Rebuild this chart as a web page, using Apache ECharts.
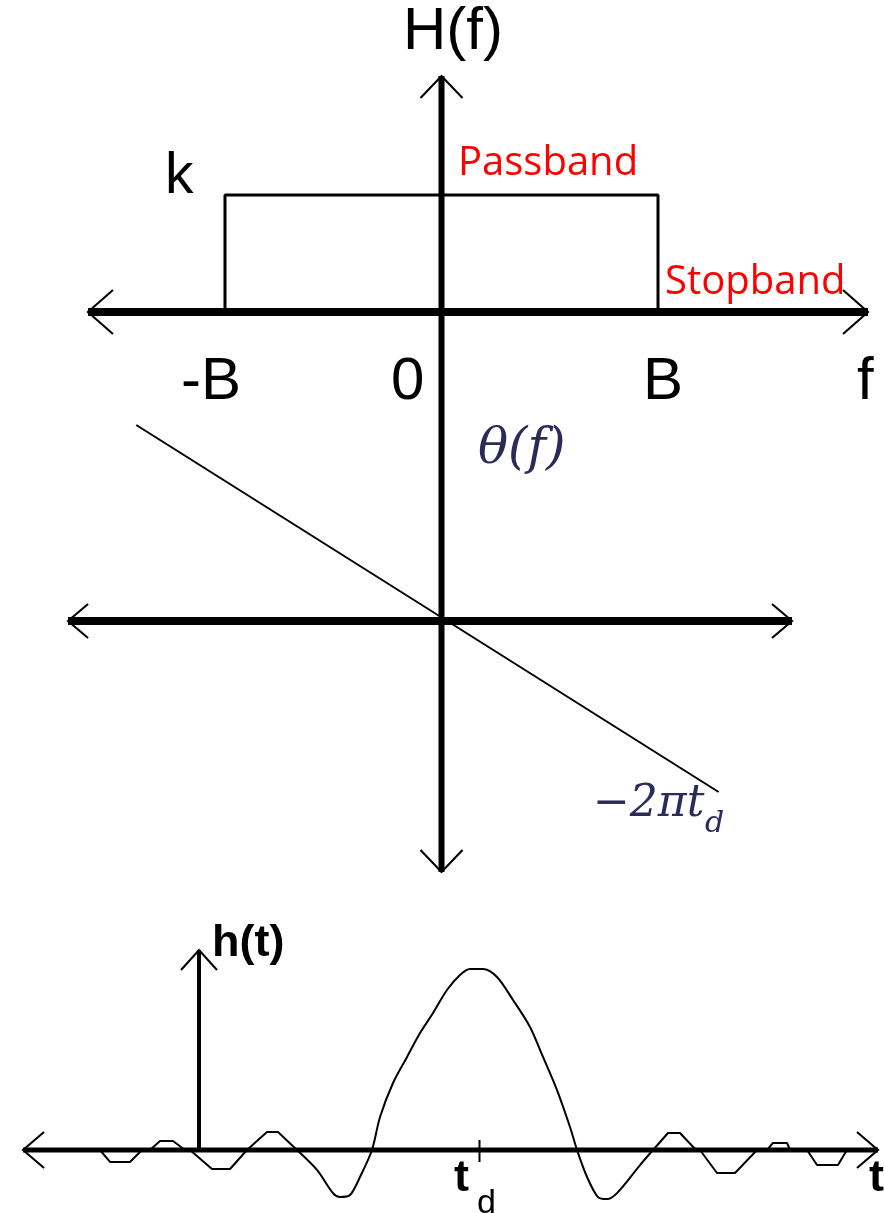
<!DOCTYPE html>
<html>
<head>
<meta charset="utf-8">
<title>Ideal low-pass filter</title>
<script src="https://cdn.jsdelivr.net/npm/echarts@6/dist/echarts.min.js"></script>
<style>
  html, body { margin: 0; padding: 0; background: #ffffff; }
  #chart { width: 884px; height: 1213px; }
</style>
</head>
<body>
<div id="chart"></div>
<script>
// Ideal low-pass filter: magnitude |H(f)|, phase θ(f) and impulse response h(t)

// |H(f)|: band edges in units of B, passband gain k
const bandEdges = [-1, 1];
const passGain = 1;
const magFreq = [bandEdges[0], bandEdges[0], bandEdges[1], bandEdges[1]];
const magVals = [0, passGain, passGain, 0];

// θ(f): end points of the linear-phase segment
const phaseFreq = [-1.41, 1.28];
const phaseVals = [1.96, -1.71];

// h(t): delayed sinc, time in units where t_d = 3, peak normalised to 1
const tDelay = 3;
const hTimes = [-1.059, -0.952, -0.738, -0.610, -0.524, -0.417, -0.278, -0.150, -0.096, 0.139,
  0.332, 0.513, 0.727, 0.845, 1.048, 1.262, 1.433, 1.508, 1.615, 1.722,
  1.850, 1.936, 2.075, 2.225, 2.364, 2.503, 2.652, 2.791, 2.898, 3.037,
  3.187, 3.358, 3.540, 3.679, 3.829, 3.968, 4.043, 4.150, 4.267, 4.364,
  4.471, 4.717, 4.856, 5.016, 5.144, 5.316, 5.358, 5.540, 5.733, 5.968,
  6.075, 6.139, 6.289, 6.321, 6.503, 6.610, 6.834, 6.930];
const hVals = [0, -0.066, -0.066, 0, 0, 0.050, 0.050, 0, 0, -0.105,
  -0.105, 0, 0.099, 0.099, 0, -0.110, -0.238, -0.260, -0.249, -0.149,
  0, 0.182, 0.370, 0.514, 0.646, 0.757, 0.884, 0.967, 1.000, 1.000,
  0.956, 0.829, 0.680, 0.514, 0.331, 0.127, 0, -0.149, -0.260, -0.271,
  -0.238, -0.083, 0, 0.094, 0.094, 0, 0, -0.127, -0.127, 0,
  0, 0.039, 0.039, 0, 0, -0.083, -0.083, 0];
// index range of the main lobe and its two neighbours, drawn as a smooth curve
const hSmoothRange = [14, 42];

// Axis extents (arrow tip to arrow tip)
const fAxisSpan = [-1.633, 1.97];
const magAxisSpan = [2.017, -4.786];   // vertical axis continues down through the phase plot
const phaseAxisSpan = [-1.725, 1.619];
const tAxisSpan = [-1.882, 7.262];
const hAxisSpan = [0, 1.105];
const tTickHalf = [0.055, -0.066];

// Text
const freqTickLabels = ['-B', '0', 'B'];
const bandLabels = ['Passband', 'Stopband'];

const zip = (xs, ys) => xs.map((x, i) => [x, ys[i]]);

// Axis line with open chevron arrow heads, placed through the grid's scales
function arrowAxis(gi, from, to, cfg) {
  return {
    type: 'custom',
    xAxisIndex: gi,
    yAxisIndex: gi,
    silent: true,
    clip: false,
    z: cfg.z || 3,
    data: [[from[0], from[1], to[0], to[1]]],
    renderItem: function (params, api) {
      const a = api.coord([api.value(0), api.value(1)]);
      const b = api.coord([api.value(2), api.value(3)]);
      const dx = b[0] - a[0], dy = b[1] - a[1];
      const len = Math.hypot(dx, dy) || 1;
      const ux = dx / len, uy = dy / len;
      const children = [{
        type: 'line',
        shape: { x1: a[0], y1: a[1], x2: b[0], y2: b[1] },
        style: { stroke: '#000', lineWidth: cfg.width }
      }];
      function head(tip, ox, oy) {
        const bx = tip[0] - ox * cfg.back, by = tip[1] - oy * cfg.back;
        const px = -oy * cfg.spread, py = ox * cfg.spread;
        children.push({
          type: 'polyline',
          shape: { points: [[bx + px, by + py], [tip[0], tip[1]], [bx - px, by - py]] },
          style: { stroke: '#000', lineWidth: 2.1, fill: 'none' }
        });
      }
      if (cfg.start) head(a, -ux, -uy);
      if (cfg.end) head(b, ux, uy);
      return { type: 'group', children: children };
    }
  };
}

function curve(gi, xs, ys, width, z, smooth) {
  return {
    type: 'line',
    xAxisIndex: gi,
    yAxisIndex: gi,
    data: zip(xs, ys),
    showSymbol: false,
    symbol: 'none',
    silent: true,
    clip: false,
    smooth: smooth || false,
    z: z || 2,
    lineStyle: { color: '#000', width: width }
  };
}

const sansBlack = (size, weight) => ({
  fontFamily: '"Liberation Sans", Arial, sans-serif',
  fontSize: size,
  fontWeight: weight || 'normal',
  fill: '#000'
});
const mathStyle = (size) => ({
  fontFamily: '"DejaVu Serif", serif',
  fontStyle: 'italic',
  fontSize: size,
  fill: '#2b2b5a'
});
const redStyle = {
  fontFamily: '"Open Sans", sans-serif',
  fontSize: 40,
  fill: '#ff0000'
};

function label(text, x, y, st) {
  return {
    type: 'text',
    x: x,
    y: y,
    z: 10,
    silent: true,
    style: Object.assign({ text: text, align: 'left', verticalAlign: 'middle' }, st)
  };
}

const chart = echarts.init(document.getElementById('chart'), null, { renderer: 'canvas' });

const hiddenAxis = (min, max, gi) => ({
  type: 'value', gridIndex: gi, min: min, max: max, show: false
});

const [s0, s1] = hSmoothRange;

chart.setOption({
  animation: false,
  backgroundColor: '#ffffff',
  grid: [
    { left: 8.5, top: 19.5, width: 866, height: 877.5, outerBoundsMode: 'none' },
    { left: 8.5, top: 321, width: 866, height: 600, outerBoundsMode: 'none' },
    { left: 12, top: 878.5, width: 869.55, height: 362, outerBoundsMode: 'none' }
  ],
  xAxis: [hiddenAxis(-2, 2, 0), hiddenAxis(-2, 2, 1), hiddenAxis(-2, 7.3, 2)],
  yAxis: [hiddenAxis(-5, 2.5, 0), hiddenAxis(-3, 3, 1), hiddenAxis(-0.5, 1.5, 2)],
  series: [
    // magnitude response
    curve(0, magFreq, magVals, 3),
    arrowAxis(0, [fAxisSpan[0], 0], [fAxisSpan[1], 0], { width: 8, start: true, end: true, back: 25, spread: 22 }),
    arrowAxis(0, [0, magAxisSpan[0]], [0, magAxisSpan[1]], { width: 6, start: true, end: true, back: 22, spread: 21 }),
    // phase response
    arrowAxis(1, [phaseAxisSpan[0], 0], [phaseAxisSpan[1], 0], { width: 8, start: true, end: true, back: 20, spread: 17 }),
    curve(1, phaseFreq, phaseVals, 2, 4),
    // impulse response
    arrowAxis(2, [tAxisSpan[0], 0], [tAxisSpan[1], 0], { width: 5, start: true, end: true, back: 21, spread: 18 }),
    arrowAxis(2, [0, hAxisSpan[0]], [0, hAxisSpan[1]], { width: 4, start: false, end: true, back: 20, spread: 18 }),
    curve(2, [tDelay, tDelay], tTickHalf, 2),
    curve(2, hTimes.slice(0, s0 + 1), hVals.slice(0, s0 + 1), 2, 4),
    curve(2, hTimes.slice(s0, s1 + 1), hVals.slice(s0, s1 + 1), 2, 4, 0.3),
    curve(2, hTimes.slice(s1), hVals.slice(s1), 2, 4)
  ],
  graphic: [
    label('H(f)', 403, 32, sansBlack(60)),
    label('k', 165, 177, sansBlack(57)),
    label(bandLabels[0], 458, 164, redStyle),
    label(bandLabels[1], 665, 283, redStyle),
    label(freqTickLabels[0], 181, 382, sansBlack(60)),
    label(freqTickLabels[1], 391, 382, sansBlack(60)),
    label(freqTickLabels[2], 643, 382, sansBlack(60)),
    label('f', 857, 382, sansBlack(60)),
    label('θ(f)', 478, 450, mathStyle(50)),
    label('−2πt', 593, 805, mathStyle(44)),
    label('d', 705, 824, mathStyle(30)),
    label('h(t)', 212, 944, sansBlack(45, 'bold')),
    label('t', 454, 1179, sansBlack(45, 'bold')),
    label('d', 477, 1204, sansBlack(34)),
    label('t', 869, 1179, sansBlack(45, 'bold'))
  ]
});
</script>
</body>
</html>
